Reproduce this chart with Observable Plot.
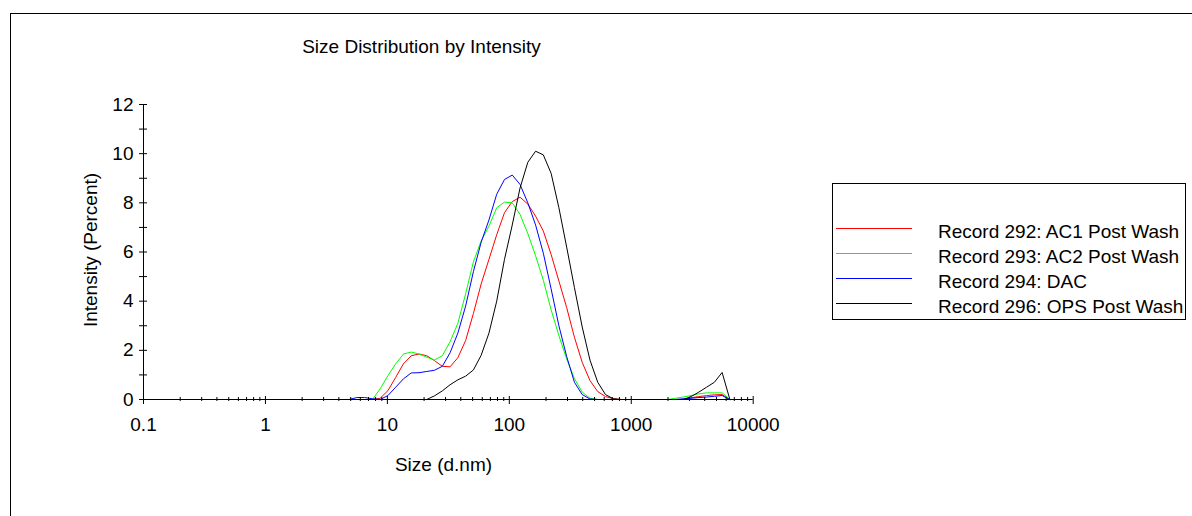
<!DOCTYPE html>
<html><head><meta charset="utf-8">
<script src="https://cdn.jsdelivr.net/npm/d3@7"></script>
<script src="https://cdn.jsdelivr.net/npm/@observablehq/plot@0.6"></script>
<style>
html,body{margin:0;padding:0;background:#fff;}
#wrap{position:relative;width:1192px;height:516px;overflow:hidden;font-family:"Liberation Sans",Arial,sans-serif;color:#000;}
#wrap svg{position:absolute;left:0;top:0;}
.frame{position:absolute;left:10px;top:13px;width:1300px;height:600px;border-left:1px solid #000;border-top:1px solid #000;}
.lbl{position:absolute;font-size:19px;white-space:nowrap;line-height:1;}
.legend{position:absolute;left:832px;top:183px;width:352px;height:135px;border:1px solid #000;background:#fff;}
</style></head><body><div id="wrap"><div class="frame"></div></div>
<script>
// Size bins (d.nm)
const sizes = [4.849, 5.615, 6.503, 7.531, 8.721, 10.1, 11.7, 13.54, 15.69, 18.17, 21.04, 24.36, 28.21, 32.67, 37.84, 43.82, 50.75, 58.77, 68.06, 78.82, 91.28, 105.7, 122.4, 141.8, 164.2, 190.1, 220.2, 255.0, 295.3, 342.0, 396.1, 458.7, 531.2, 615.1, 712.4, 825.0, 955.4, 1106, 1281, 1484, 1718, 1990, 2305, 2669, 3091, 3580, 4145, 4801, 5560, 6439, 7456];

const seriesNames = ["Record 292: AC1 Post Wash", "Record 293: AC2 Post Wash", "Record 294: DAC", "Record 296: OPS Post Wash"];
const seriesColors = ["#ff0000", "#00ff00", "#0000ff", "#000000"];

// Intensity (Percent); null = not drawn
const ac1 = [null, null, null, 0, 0.05, 0.36, 0.9, 1.45, 1.78, 1.85, 1.78, 1.58, 1.35, 1.33, 1.7, 2.4, 3.5, 4.7, 5.7, 6.7, 7.6, 8.05, 8.23, 7.95, 7.46, 6.85, 5.9, 4.82, 3.74, 2.53, 1.51, 0.77, 0.32, 0.12, 0.03, 0, null, null, null, null, null, null, null, 0, 0.07, 0.12, 0.16, 0.19, 0.2, 0, null];
const ac2 = [null, null, null, 0, 0.43, 0.97, 1.45, 1.85, 1.93, 1.85, 1.72, 1.61, 1.78, 2.35, 3.1, 4.3, 5.6, 6.45, 7.05, 7.8, 8.03, 8.0, 7.53, 6.75, 5.85, 4.85, 3.65, 2.6, 1.65, 0.85, 0.3, 0.05, 0, null, null, null, null, null, null, null, null, 0, 0.05, 0.1, 0.16, 0.23, 0.27, 0.27, 0.27, 0, null];
const dac = [0, 0.08, 0.08, 0.03, 0, 0.16, 0.5, 0.84, 1.08, 1.09, 1.14, 1.19, 1.35, 1.9, 2.7, 3.8, 5.2, 6.4, 7.3, 8.35, 8.95, 9.13, 8.75, 8.0, 7.1, 5.95, 4.5, 3.0, 1.75, 0.7, 0.2, 0.02, 0, null, null, null, null, null, null, null, null, null, 0, 0.03, 0.05, 0.08, 0.1, 0.13, 0.16, 0, null];
const ops = [null, null, null, null, null, null, null, null, null, null, 0, 0.15, 0.35, 0.6, 0.8, 0.95, 1.2, 1.8, 2.7, 4.0, 5.7, 7.1, 8.6, 9.65, 10.1, 9.95, 9.2, 7.8, 6.2, 4.55, 2.95, 1.6, 0.7, 0.2, 0.03, 0, null, null, null, null, null, null, null, 0, 0.12, 0.3, 0.5, 0.7, 1.1, 0, null];

const xTicks = [0.1, 1, 10, 100, 1000, 10000];
const xTickLabels = ["0.1", "1", "10", "100", "1000", "10000"];
const yTicks = [0, 2, 4, 6, 8, 10, 12];
const yMinorTicks = [1, 3, 5, 7, 9, 11];

const titleText = "Size Distribution by Intensity";
const xLabel = "Size (d.nm)";
const yLabel = "Intensity (Percent)";

const seriesValues = [ac1, ac2, dac, ops];
const rows = seriesValues.flatMap((vals, i) => sizes.map((s, j) => ({size: s, value: vals[j], name: seriesNames[i]})));
const xMinor = xTicks.slice(0, -1).flatMap(d => [2,3,4,5,6,7,8,9].map(k => d * k));

const W = 1192, H = 516, ML = 143, MR = 439.3, MT = 104, MB = 117;
const fw = W - ML - MR, fh = H - MT - MB;

const chart = Plot.plot({
  width: W, height: H,
  marginLeft: ML, marginRight: MR, marginTop: MT, marginBottom: MB,
  style: {fontFamily: "'Liberation Sans', Arial, sans-serif", fontSize: "19px", color: "#000", background: "transparent", overflow: "visible"},
  x: {type: "log", domain: [0.1, 10000], label: null},
  y: {domain: [0, 12], label: null},
  color: {domain: seriesNames, range: seriesColors},
  marks: [
    Plot.line(rows, {x: "size", y: "value", z: "name", stroke: "name", strokeWidth: 1}),
    Plot.ruleY([0], {stroke: "#000"}),
    Plot.ruleX([0.1], {stroke: "#000", insetBottom: -3}),
    Plot.tickX(xTicks, {x: d => d, insetTop: fh - 3, insetBottom: -5, stroke: "#000"}),
    Plot.tickX(xMinor, {x: d => d, insetTop: fh - 2, insetBottom: -2, stroke: "#000"}),
    Plot.tickY(yTicks.concat(yMinorTicks), {y: d => d, insetLeft: -4, insetRight: fw - 4, stroke: "#000"}),
    Plot.axisX({ticks: xTicks, tickFormat: d => xTickLabels[xTicks.indexOf(d)], tickSize: 0, tickPadding: 18, label: null, fill: "#000"}),
    Plot.axisY({ticks: yTicks, tickSize: 0, tickPadding: 10, label: null, fill: "#000"})
  ]
});
const wrap = document.getElementById("wrap");
wrap.appendChild(chart);

function addLabel(text, x, y, rotate) {
  const d = document.createElement("div");
  d.className = "lbl";
  d.textContent = text;
  d.style.left = x + "px";
  d.style.top = y + "px";
  d.style.transform = "translate(-50%,-50%)" + (rotate ? " rotate(-90deg)" : "");
  wrap.appendChild(d);
}
addLabel(titleText, 421.5, 46);
addLabel(xLabel, 443.5, 464);
addLabel(yLabel, 90, 250, true);

// Legend
const leg = document.createElement("div");
leg.className = "legend";
const ns = "http://www.w3.org/2000/svg";
const lsvg = document.createElementNS(ns, "svg");
lsvg.setAttribute("width", 352); lsvg.setAttribute("height", 135);
lsvg.style.position = "absolute"; lsvg.style.left = "0"; lsvg.style.top = "0";
seriesNames.forEach((name, i) => {
  const y = 44.5 + i * 25;
  const ln = document.createElementNS(ns, "line");
  ln.setAttribute("x1", 3); ln.setAttribute("x2", 79);
  ln.setAttribute("y1", y); ln.setAttribute("y2", y);
  ln.setAttribute("stroke", seriesColors[i]); ln.setAttribute("stroke-width", 1);
  lsvg.appendChild(ln);
  const t = document.createElement("div");
  t.className = "lbl";
  t.textContent = name;
  t.style.left = "105px";
  t.style.top = (y + 2) + "px";
  t.style.transform = "translateY(-50%)";
  leg.appendChild(t);
});
leg.insertBefore(lsvg, leg.firstChild);
wrap.appendChild(leg);
</script>
</body></html>
